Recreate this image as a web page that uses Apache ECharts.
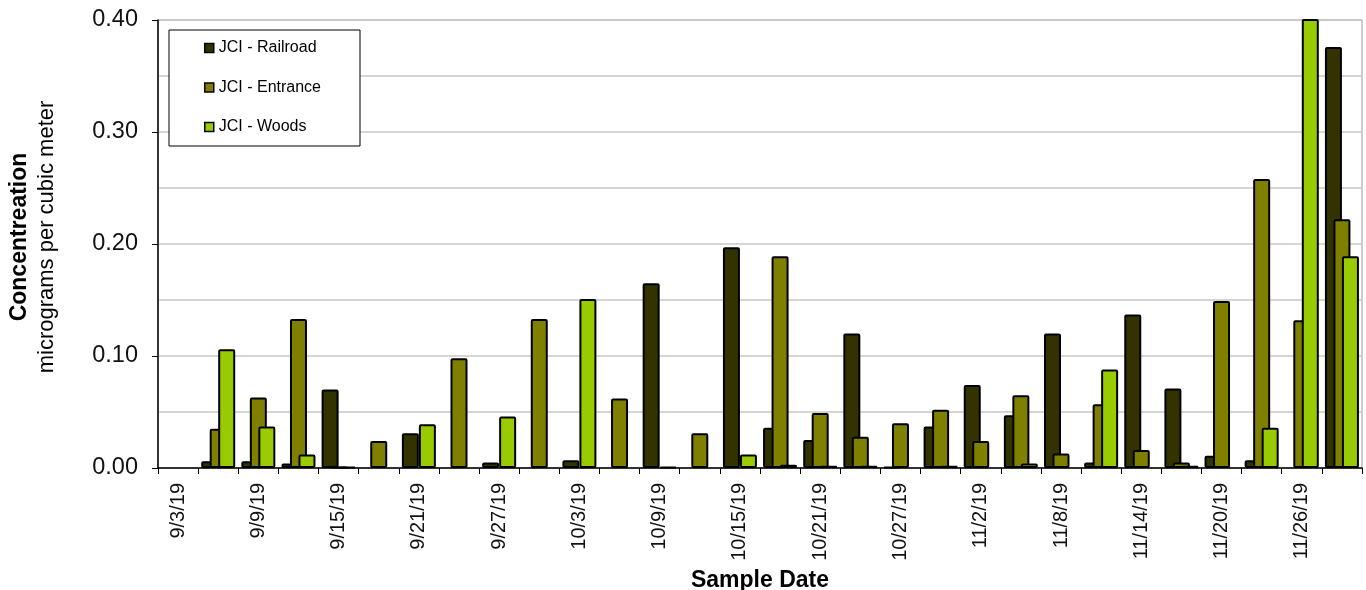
<!DOCTYPE html>
<html>
<head>
<meta charset="utf-8">
<script src="https://cdn.jsdelivr.net/npm/echarts@6/dist/echarts.min.js"></script>
<style>
html,body{margin:0;padding:0;background:#fff;}
#chart{width:1366px;height:590px;}
</style>
</head>
<body>
<div id="chart"></div>
<script>
const categories = ['9/3/19','9/6/19','9/9/19','9/12/19','9/15/19','9/18/19','9/21/19','9/24/19','9/27/19','9/30/19',
  '10/3/19','10/6/19','10/9/19','10/12/19','10/15/19','10/18/19','10/21/19','10/24/19','10/27/19','10/30/19',
  '11/2/19','11/5/19','11/8/19','11/11/19','11/14/19','11/17/19','11/20/19','11/23/19','11/26/19','11/29/19'];
const railroad = [null,0.006,0.006,0.004,0.070,null,0.031,null,0.005,null,
  0.007,null,0.165,null,0.197,0.036,0.025,0.120,0.001,0.037,
  0.074,0.047,0.120,0.005,0.137,0.071,0.011,0.007,null,0.376];
const entrance = [null,0.035,0.063,0.133,0.001,0.024,null,0.098,null,0.133,
  null,0.062,null,0.031,null,0.189,0.049,0.028,0.040,0.052,
  0.024,0.065,0.013,0.057,0.016,0.005,0.149,0.258,0.132,0.222];
const woods = [null,0.106,0.037,0.012,0.001,null,0.039,null,0.046,null,
  0.151,null,0.001,null,0.012,0.003,0.002,0.002,null,0.002,
  null,0.004,null,0.088,null,0.002,null,0.036,0.45,0.189];
const seriesNames = ['JCI - Railroad','JCI - Entrance','JCI - Woods'];
const seriesColors = ['#333300','#808000','#99cc00'];
const yTicks = [0, 0.4, 0.1];

const font = '"Liberation Sans", Arial, sans-serif';
const chart = echarts.init(document.getElementById('chart'));
const dataSets = [railroad, entrance, woods];
chart.setOption({
  animation: false,
  backgroundColor: '#fff',
  grid: {left: 158, right: 4, top: 20, bottom: 122, containLabel: false, outerBoundsMode: 'none',
         show: true, borderColor: '#999', borderWidth: 1},
  legend: {
    orient: 'vertical', left: 169, top: 30,
    data: seriesNames, icon: 'rect',
    itemWidth: 9, itemHeight: 9, itemGap: 21.5,
    padding: [9, 39, 10, 35],
    borderColor: '#000', borderWidth: 1, backgroundColor: '#fff',
    textStyle: {fontFamily: font, fontSize: 16, color: '#000', lineHeight: 18},
    itemStyle: {borderColor: '#000', borderWidth: 1.5}
  },
  xAxis: {
    type: 'category', data: categories,
    name: 'Sample Date', nameLocation: 'middle', nameGap: 99,
    nameTextStyle: {fontFamily: font, fontSize: 23, fontWeight: 'bold', color: '#000'},
    axisLine: {lineStyle: {color: '#000', width: 1.5}},
    axisTick: {show: true, interval: 0, length: 6, lineStyle: {color: '#000'}},
    axisLabel: {interval: 1, rotate: 90, margin: 15, fontFamily: font, fontSize: 20, color: '#111'},
    splitLine: {show: false}
  },
  yAxis: {
    type: 'value', min: yTicks[0], max: yTicks[1], interval: yTicks[2],
    name: '{b|Concentreation}\n{n|micrograms per cubic meter}',
    nameLocation: 'middle', nameGap: 98, nameRotate: 90,
    nameTextStyle: {
      padding: [0, 0, 0, 14],
      rich: {
        b: {fontFamily: font, fontSize: 23, fontWeight: 'bold', color: '#000', lineHeight: 27},
        n: {fontFamily: font, fontSize: 22, color: '#000', lineHeight: 27}
      }
    },
    axisLine: {show: true, lineStyle: {color: '#000', width: 1.5}},
    axisTick: {show: true, length: 6, lineStyle: {color: '#000'}},
    axisLabel: {margin: 20, fontFamily: font, fontSize: 23.5, color: '#111', formatter: v => v.toFixed(2)},
    splitLine: {show: true, lineStyle: {color: '#c8c8c8', width: 1.5}},
    minorTick: {show: false, splitNumber: 2},
    minorSplitLine: {show: true, lineStyle: {color: '#c8c8c8', width: 1.5}}
  },
  series: dataSets.map((d, i) => ({
    name: seriesNames[i], type: 'bar', data: d,
    barWidth: 17, barGap: '-50%',
    clip: true,
    itemStyle: {color: seriesColors[i], borderColor: '#000', borderWidth: 2, borderRadius: 1}
  }))
});
</script>
</body>
</html>
